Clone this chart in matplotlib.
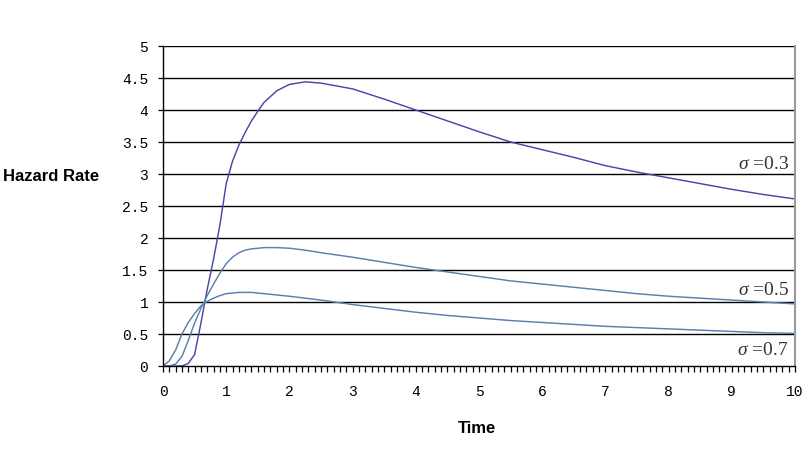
import matplotlib
matplotlib.use("Agg")
import matplotlib.pyplot as plt
from matplotlib.ticker import MultipleLocator

plt.rcParams["mathtext.fontset"] = "custom"
plt.rcParams["mathtext.rm"] = "Liberation Serif"
plt.rcParams["mathtext.it"] = "Liberation Serif:italic"

time = [0, 0.1, 0.2, 0.3, 0.4, 0.5, 0.6, 0.7, 0.8, 0.9, 1.0, 1.1, 1.2, 1.3, 1.4, 1.5,
        1.6, 1.8, 2.0, 2.25, 2.5, 3.0, 3.5, 4.0, 4.5, 5.0, 5.5, 6.0, 6.5, 7.0, 7.5,
        8.0, 8.5, 9.0, 9.5, 10.0]
hazard_s03 = [0, 0, 0, 0.0, 0.04, 0.18, 0.67, 1.2, 1.67, 2.2, 2.85, 3.2, 3.45, 3.65,
              3.83, 3.98, 4.12, 4.3, 4.4, 4.44, 4.42, 4.33, 4.17, 4.0, 3.83, 3.66,
              3.5, 3.38, 3.26, 3.13, 3.03, 2.94, 2.85, 2.76, 2.68, 2.61]
hazard_s05 = [0, 0, 0.03, 0.15, 0.4, 0.67, 0.9, 1.1, 1.28, 1.45, 1.6, 1.7, 1.77, 1.81,
              1.83, 1.84, 1.85, 1.85, 1.84, 1.81, 1.77, 1.7, 1.62, 1.54, 1.47, 1.4,
              1.33, 1.28, 1.23, 1.18, 1.13, 1.09, 1.06, 1.03, 1.0, 0.97]
hazard_s07 = [0, 0.08, 0.25, 0.5, 0.68, 0.82, 0.94, 1.01, 1.06, 1.1, 1.13, 1.14, 1.15,
              1.15, 1.15, 1.14, 1.13, 1.11, 1.09, 1.06, 1.03, 0.96, 0.9, 0.84, 0.79,
              0.75, 0.71, 0.68, 0.65, 0.62, 0.6, 0.58, 0.56, 0.54, 0.52, 0.51]
sigma_labels = [r"$\it{\sigma}$ =0.3", r"$\it{\sigma}$ =0.5", r"$\it{\sigma}$ =0.7"]
y_ticks = [0, 0.5, 1, 1.5, 2, 2.5, 3, 3.5, 4, 4.5, 5]
y_tick_labels = ["0", "0.5", "1", "1.5", "2", "2.5", "3", "3.5", "4", "4.5", "5"]
x_ticks = list(range(0, 11))

fig = plt.figure(figsize=(8.05, 4.56), dpi=100)
ax = fig.add_axes([163 / 805, 1 - 367 / 456, (795 - 163) / 805, (367 - 47) / 456])

ax.plot(time, hazard_s03, color="#4848a8", lw=1.05)
ax.plot(time, hazard_s05, color="#5a80ac", lw=1.05)
ax.plot(time, hazard_s07, color="#5a80ac", lw=1.05)

ax.set_xlim(0, 10)
ax.set_ylim(0, 5)
ax.set_yticks(y_ticks)
ax.set_yticklabels(y_tick_labels, family="Liberation Mono", fontsize=10.5)
ax.set_xticks(x_ticks)
ax.set_xticklabels([str(v) for v in x_ticks], family="Liberation Mono", fontsize=10.5)
ax.xaxis.set_minor_locator(MultipleLocator(0.1))
ax.tick_params(axis="x", which="both", direction="out", length=4.3, width=0.9,
               pad=9, color="black")
ax.tick_params(axis="y", which="major", direction="out", length=3.6, width=0.9,
               pad=7, color="black")

for yv in y_ticks[1:]:
    ax.axhline(yv, color="black", lw=1.0, zorder=0)

ax.spines["top"].set_visible(False)
ax.spines["right"].set_color("#9a9a9a")
ax.spines["right"].set_linewidth(1.5)
ax.spines["left"].set_linewidth(1)
ax.spines["bottom"].set_linewidth(1)

label_pos = [3.17, 1.2, 0.25]
for lab, yp in zip(sigma_labels, label_pos):
    ax.text(9.9, yp, lab, ha="right", va="center", family="Liberation Serif",
            fontsize=14, color="#333333")

fig.text(3 / 805, 1 - 177 / 456, "Hazard Rate", ha="left", va="center",
         family="Liberation Sans", fontweight="bold", fontsize=12)
fig.text(477 / 805, 1 - 429 / 456, "Time", ha="center", va="center",
         family="Liberation Sans", fontweight="bold", fontsize=12)

fig.savefig("out.png", dpi=100)
